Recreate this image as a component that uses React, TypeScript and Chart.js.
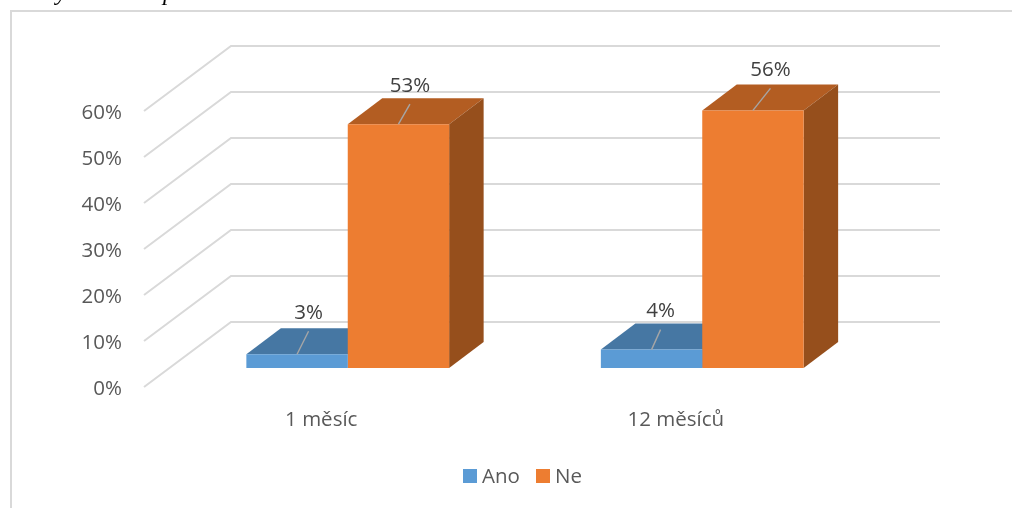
import React, { useEffect, useRef } from "react";
import { Chart, registerables } from "chart.js";

Chart.register(...registerables);

const categories = ["1 měsíc", "12 měsíců"];
const ano = [3, 4];
const ne = [53, 56];
const seriesNames = ["Ano", "Ne"];
const yTicksMax = 60;
const yTicksStep = 10;

const FONT = "'Open Sans', sans-serif";
const FONT_SIZE = 20.5;

// Colours of each series: front, top and side faces of the bars.
const faces = [
  { front: "#5B9BD5", top: "#4677A3", side: "#3E6C96" },
  { front: "#ED7D31", top: "#B35D22", side: "#964F1C" },
];

// Oblique projection of the chart's box and of the bars standing inside it.
const boxDepth = { dx: 87, dy: -65 };
const barDepth = { dx: 34.5, dy: -26 };
const barShift = { dx: 26.5, dy: -19 };

// Leader line ends, relative to the middle of each bar's top front edge.
const leaderTips = [
  [[11.5, -23], [9, -20]],
  [[11.5, -20], [17.5, -22]],
];

const boxFaces = {
  id: "boxFaces",
  beforeDatasetsDraw(chart: any) {
    const { ctx, chartArea, scales } = chart;
    // Gridlines run up the left wall, then across the back wall.
    ctx.save();
    ctx.strokeStyle = "#D9D9D9";
    ctx.lineWidth = 2;
    for (const tick of scales.y.ticks) {
      const y = scales.y.getPixelForValue(tick.value);
      ctx.beginPath();
      ctx.moveTo(chartArea.left, y);
      ctx.lineTo(chartArea.left + boxDepth.dx, y + boxDepth.dy);
      ctx.lineTo(chartArea.right + boxDepth.dx, y + boxDepth.dy);
      ctx.stroke();
    }
    ctx.restore();

    // Bars are moved into the middle of the box; the matching restore is below.
    ctx.save();
    ctx.translate(barShift.dx, barShift.dy);
    chart.data.datasets.forEach((_: any, di: number) => {
      chart.getDatasetMeta(di).data.forEach((bar: any) => {
        const { x, y, base, width } = bar.getProps(["x", "y", "base", "width"]);
        const l = x - width / 2;
        const r = x + width / 2;
        ctx.fillStyle = faces[di].top;
        ctx.beginPath();
        ctx.moveTo(l, y);
        ctx.lineTo(l + barDepth.dx, y + barDepth.dy);
        ctx.lineTo(r + barDepth.dx, y + barDepth.dy);
        ctx.lineTo(r, y);
        ctx.closePath();
        ctx.fill();
        ctx.fillStyle = faces[di].side;
        ctx.beginPath();
        ctx.moveTo(r, y);
        ctx.lineTo(r + barDepth.dx, y + barDepth.dy);
        ctx.lineTo(r + barDepth.dx, base + barDepth.dy);
        ctx.lineTo(r, base);
        ctx.closePath();
        ctx.fill();
      });
    });
  },
  afterDatasetsDraw(chart: any) {
    const { ctx } = chart;
    // Value labels with their leader lines, still in the shifted bar space.
    chart.data.datasets.forEach((ds: any, di: number) => {
      chart.getDatasetMeta(di).data.forEach((bar: any, i: number) => {
        const { x, y } = bar.getProps(["x", "y"]);
        const [tx, ty] = leaderTips[di][i];
        ctx.strokeStyle = "#A6A6A6";
        ctx.lineWidth = 1.4;
        ctx.beginPath();
        ctx.moveTo(x, y);
        ctx.lineTo(x + tx, y + ty);
        ctx.stroke();
        ctx.fillStyle = "#404040";
        ctx.font = `${FONT_SIZE}px ${FONT}`;
        ctx.textAlign = "center";
        ctx.textBaseline = "middle";
        ctx.fillText(`${ds.data[i]}%`, x + tx, y + ty - 18);
      });
    });
    ctx.restore();
  },
  afterDraw(chart: any) {
    const { ctx } = chart;
    ctx.save();
    // Outer frame: only the top and left edges fall inside the canvas.
    ctx.strokeStyle = "#D9D9D9";
    ctx.lineWidth = 2;
    ctx.beginPath();
    ctx.moveTo(11, 508);
    ctx.lineTo(11, 11);
    ctx.lineTo(1012, 11);
    ctx.stroke();

    // Descenders of the caption line above the frame.
    ctx.fillStyle = "#000000";
    ctx.font = "italic 24px 'Liberation Serif', serif";
    ctx.textAlign = "left";
    ctx.textBaseline = "alphabetic";
    ctx.fillText("y", 56, 0);
    ctx.fillText("p", 163, 0);

    // Legend row.
    ctx.font = `${FONT_SIZE}px ${FONT}`;
    ctx.textBaseline = "middle";
    const swatchX = [463, 536];
    chart.data.datasets.forEach((ds: any, di: number) => {
      ctx.fillStyle = ds.backgroundColor;
      ctx.fillRect(swatchX[di], 469, 14, 14);
      ctx.fillStyle = "#595959";
      ctx.fillText(ds.label, swatchX[di] + 19, 477);
    });
    ctx.restore();
  },
};

export default function App() {
  const ref = useRef<HTMLCanvasElement>(null);
  useEffect(() => {
    const chart = new Chart(ref.current!, {
      type: "bar",
      data: {
        labels: categories,
        datasets: [
          { label: seriesNames[0], data: ano, backgroundColor: faces[0].front },
          { label: seriesNames[1], data: ne, backgroundColor: faces[1].front },
        ],
      },
      options: {
        responsive: false,
        animation: false,
        layout: { padding: { top: 111, right: 159, bottom: 40, left: 0 } },
        datasets: { bar: { barPercentage: 1, categoryPercentage: 0.572, clip: false } },
        plugins: { legend: { display: false }, tooltip: { enabled: false }, title: { display: false } },
        scales: {
          x: {
            grid: { display: false },
            border: { display: false },
            afterFit(s: any) { s.height = 81; },
            ticks: { color: "#595959", font: { family: FONT, size: FONT_SIZE }, padding: 13, maxRotation: 0 },
          },
          y: {
            min: 0,
            max: yTicksMax,
            grid: { display: false },
            border: { display: false },
            afterFit(s: any) { s.width = 144; },
            ticks: {
              stepSize: yTicksStep,
              color: "#595959",
              font: { family: FONT, size: FONT_SIZE },
              padding: 14,
              labelOffset: 2,
              callback: (v: any) => `${v}%`,
            },
          },
        },
      } as any,
      plugins: [boxFaces],
    });
    return () => chart.destroy();
  }, []);
  return (
    <canvas
      ref={ref}
      width={1012}
      height={508}
      style={{ position: "absolute", left: 0, top: 0, display: "block", background: "#ffffff" }}
    />
  );
}
